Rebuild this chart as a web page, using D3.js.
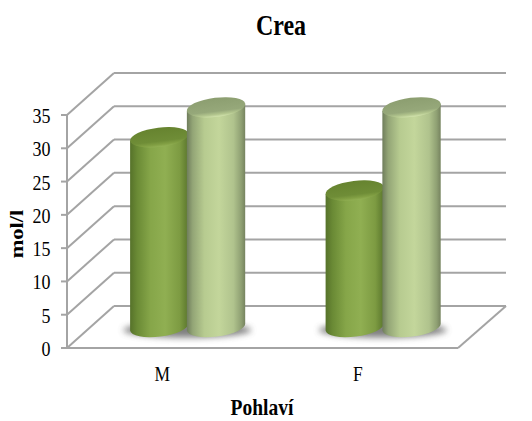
<!DOCTYPE html>
<html>
<head>
<meta charset="utf-8">
<script src="https://cdn.jsdelivr.net/npm/d3@7"></script>
<style>
html,body{margin:0;padding:0;background:#fff}
svg{display:block}
text{font-family:"Liberation Serif",serif;fill:#000}
</style>
</head>
<body>
<svg id="chart" width="532" height="421"></svg>
<script>
const categories = ["M", "F"];
const seriesNames = ["a", "b"];
const seriesA = [28.5, 20.5];
const seriesB = [33, 33];
const yTicks = [0, 5, 10, 15, 20, 25, 30, 35];

const W = 532, H = 421;
const svg = d3.select("#chart").attr("viewBox", [0, 0, W, H]);

// Front plane of the 3D box and the offset to its back wall
const plot = {left: 67, right: 458, bottom: 348, top: 115};
const depth = {x: 47, y: -42};

const y = d3.scaleLinear().domain([0, 35]).range([plot.bottom, plot.top]);
const xFront = d3.scaleBand().domain(categories).range([plot.left, plot.right]);
const xMid = d3.scaleBand().domain(categories)
  .range([plot.left + depth.x / 2, plot.right + depth.x / 2])
  .paddingInner(0.407).paddingOuter(0.2035);
const xSeries = d3.scaleBand().domain(seriesNames).range([0, xMid.bandwidth()]);

const defs = svg.append("defs");
function sideGradient(id, stops) {
  const g = defs.append("linearGradient").attr("id", id);
  stops.forEach(([o, c]) => g.append("stop").attr("offset", o).attr("stop-color", c));
}
sideGradient("sideA", [[0, "#56722a"], [0.12, "#6a8a35"], [0.35, "#86a649"], [0.6, "#90af52"], [0.85, "#7d9b42"], [1, "#5a762c"]]);
sideGradient("sideB", [[0, "#6f7d5c"], [0.1, "#93a576"], [0.3, "#b7cb90"], [0.55, "#c3d69b"], [0.8, "#b0c38d"], [0.93, "#8fa073"], [1, "#76835f"]]);
function capGradient(id, stops) {
  const g = defs.append("linearGradient").attr("id", id)
    .attr("x1", 0).attr("x2", 0).attr("y1", 0).attr("y2", 1);
  stops.forEach(([o, c]) => g.append("stop").attr("offset", o).attr("stop-color", c));
}
capGradient("capA", [[0, "#66832f"], [0.7, "#6f8d37"], [0.88, "#82a044"], [1, "#93b155"]]);
capGradient("capB", [[0, "#8c9e70"], [0.7, "#96a87a"], [0.88, "#b4c78f"], [1, "#d3e4ae"]]);
defs.append("filter").attr("id", "soft")
  .attr("x", "-30%").attr("y", "-100%").attr("width", "160%").attr("height", "300%")
  .append("feGaussianBlur").attr("stdDeviation", 3);

// Box: back wall, side wall, floor
const grid = svg.append("g").attr("fill", "none").attr("stroke", "#a4a4a4").attr("stroke-width", 2);
const backX0 = plot.left + depth.x, backX1 = plot.right + depth.x + 1;
grid.selectAll(".back").data(yTicks).join("line").attr("class", "back")
  .attr("x1", backX0).attr("x2", backX1)
  .attr("y1", d => y(d) + depth.y).attr("y2", d => y(d) + depth.y);
grid.selectAll(".side").data(yTicks).join("line").attr("class", "side")
  .attr("x1", plot.left).attr("x2", backX0)
  .attr("y1", d => y(d)).attr("y2", d => y(d) + depth.y);
grid.selectAll(".tick").data(yTicks).join("line").attr("class", "tick")
  .attr("x1", plot.left - 6).attr("x2", plot.left)
  .attr("y1", d => y(d)).attr("y2", d => y(d));
grid.append("line").attr("x1", plot.left).attr("x2", plot.left).attr("y1", y(0)).attr("y2", y(35));
grid.append("line").attr("x1", plot.left).attr("x2", plot.right).attr("y1", y(0)).attr("y2", y(0));
grid.append("line").attr("x1", plot.right).attr("x2", backX1).attr("y1", y(0)).attr("y2", y(0) + depth.y);

// Cylinders stand halfway along the floor depth
const baseY = y(0) + depth.y / 2;
const rx = xSeries.bandwidth() / 2 + 0.4, ry = 9.6, tilt = -7;
const sin = Math.sin(tilt * Math.PI / 180), cos = Math.cos(tilt * Math.PI / 180);
const topY = v => y(v) + depth.y / 2;

const rows = [];
categories.forEach((c, i) => {
  rows.push({c, s: "a", v: seriesA[i]});
  rows.push({c, s: "b", v: seriesB[i]});
});
const cx = d => xMid(d.c) + xSeries(d.s) + xSeries.bandwidth() / 2 - (d.s === "b" ? 1.2 : 0);

// Soft ground shadow under each pair
svg.append("g").selectAll("ellipse").data(categories).join("ellipse")
  .attr("cx", c => xMid(c) + xMid.bandwidth() / 2 - 1)
  .attr("cy", baseY + 3)
  .attr("rx", xMid.bandwidth() / 2 + 6).attr("ry", 7.5)
  .attr("fill", "#555").attr("opacity", 0.75)
  .attr("filter", "url(#soft)");

const bars = svg.append("g").selectAll("g").data(rows).join("g");
bars.append("path")
  .attr("fill", d => `url(#side${d.s.toUpperCase()})`)
  .attr("d", d => {
    const c = cx(d), t = topY(d.v);
    const lx = c - rx * cos, rxp = c + rx * cos;
    const dyL = -rx * sin, dyR = rx * sin;
    return `M${lx},${t + dyL} L${lx},${baseY + dyL} A${rx},${ry} ${tilt} 0 0 ${rxp},${baseY + dyR} L${rxp},${t + dyR} Z`;
  });
bars.append("ellipse")
  .attr("rx", rx).attr("ry", ry)
  .attr("transform", d => `translate(${cx(d)},${topY(d.v)}) rotate(${tilt})`)
  .attr("fill", d => `url(#cap${d.s.toUpperCase()})`);

// Axis text, drawn slightly taller than wide
const stretch = (px, py, k = 1.2) => `translate(${px},${py}) scale(1,${k})`;
svg.append("g").attr("font-size", 18).attr("text-anchor", "end")
  .selectAll("text").data(yTicks).join("text")
  .attr("transform", d => stretch(plot.left - 16.5, y(d) + 8, 1.15))
  .text(d => d);
svg.append("g").attr("font-size", 17.5).attr("text-anchor", "middle")
  .selectAll("text").data(categories).join("text")
  .attr("transform", c => stretch(xFront(c) + xFront.bandwidth() / 2 - 2.5, 381, 1.15))
  .text(c => c);
svg.append("text").attr("transform", stretch(281, 35)).attr("text-anchor", "middle")
  .attr("font-size", 24).attr("font-weight", "bold").text("Crea");
svg.append("text").attr("transform", stretch(262, 415)).attr("text-anchor", "middle")
  .attr("font-size", 19.5).attr("font-weight", "bold").text("Pohlaví");
svg.append("text").attr("transform", "translate(23,234) rotate(-90) scale(1.25,1.1)").attr("text-anchor", "middle")
  .attr("font-size", 18).attr("font-weight", "bold").text("mol/l");
</script>
</body>
</html>
